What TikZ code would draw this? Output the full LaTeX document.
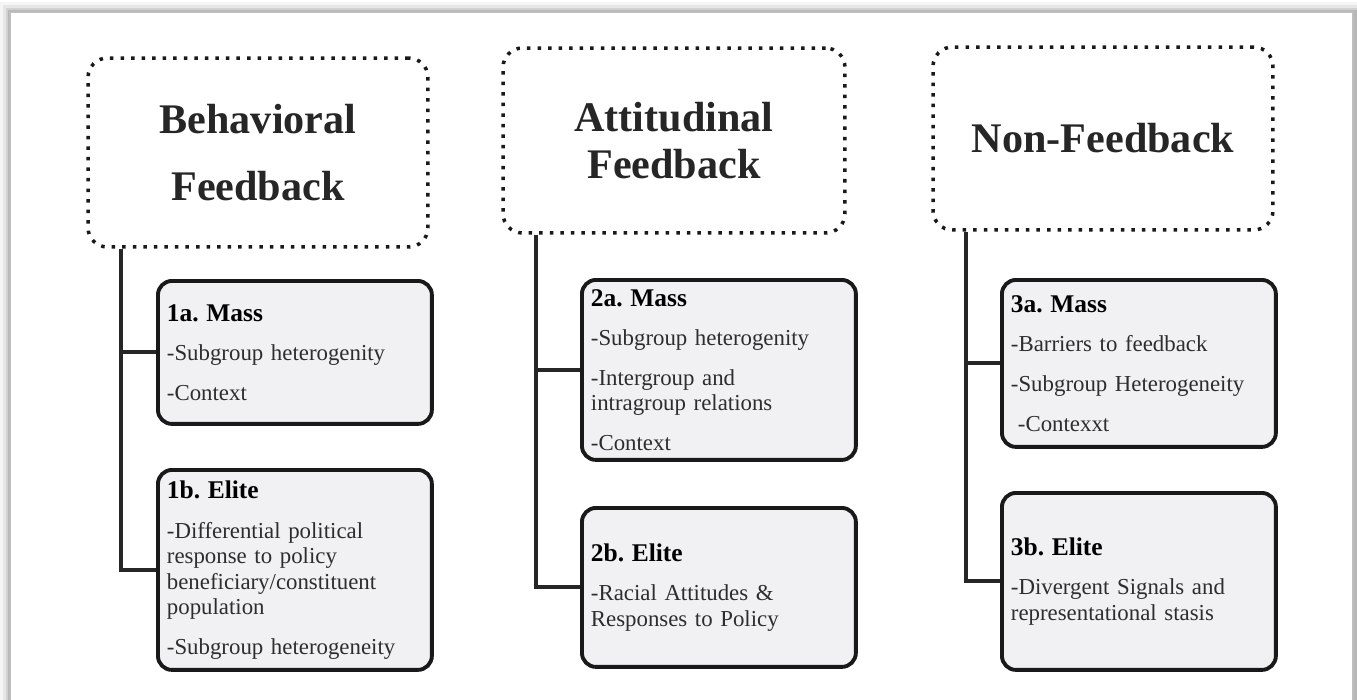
\documentclass[tikz,border=0pt]{standalone}
\usepackage{fontspec}
\setmainfont{Liberation Serif}
\usepackage{tikz}
\usetikzlibrary{positioning, calc}
\definecolor{boxfill}{RGB}{241,241,243}
\definecolor{inkgray}{RGB}{45,45,45}
\definecolor{edgegray}{RGB}{190,190,190}
\tikzset{
  headbox/.style={rectangle, draw=black!90, line width=2pt,
    dash pattern=on 2pt off 4pt, rounded corners=11pt,
    minimum width=6.8cm, align=center, text=black!85,
    font=\fontsize{24}{27}\selectfont\bfseries},
  itembox/.style={rectangle, draw=black!90, fill=boxfill,
    line width=2.2pt, rounded corners=8pt, anchor=north west,
    text width=5.12cm, inner xsep=0.18cm, align=left,
    text=inkgray, font=\fontsize{13}{14.5}\selectfont},
  trunk/.style={line width=2.2pt, color=black!85}
}
\newcommand{\hd}[1]{{\fontsize{14.5}{16}\selectfont\bfseries\color{black} #1}}
\newcommand{\gap}{8pt}
\frenchspacing

\begin{document}
\begin{tikzpicture}[x=0.02cm, y=-0.02cm]
  \useasboundingbox (0,0) rectangle (1357,700);
  % page with a soft shadow on top and left
  \fill[white] (0,0) rectangle (1357,700);
  \foreach \d/\op in {10/0.04, 7/0.06, 4/0.09, 2/0.12}
    \fill[black, opacity=\op] (10-\d,12-\d) rectangle (1357,700);
  \fill[white] (10,12) rectangle (1353,700);
  \draw[edgegray, line width=0.6pt] (10,700) -- (10,12) -- (1353,12) -- (1353,700);

  % headers
  \node[headbox, minimum height=3.78cm] (h1) at (258,152.5) {Behavioral\\[11pt]Feedback};
  \node[headbox, minimum height=3.70cm, minimum width=6.84cm] (h2) at (674,140.5) {Attitudinal\\Feedback};
  \node[headbox, minimum height=3.66cm] (h3) at (1103,138.5) {Non-Feedback};

  % column 1
  \node[itembox, minimum height=2.86cm] (b1a) at (156,279)
    {\hd{1a. Mass}\\[\gap]-Subgroup heterogenity\\[\gap]-Context};
  \node[itembox, minimum height=4.0cm] (b1b) at (156,468)
    {\hd{1b. Elite}\\[\gap]-Differential political\\response to policy\\beneficiary/constituent\\population\\[\gap]-Subgroup heterogeneity};

  % column 2
  \node[itembox, minimum height=3.6cm] (b2a) at (580,278)
    {\hd{2a. Mass}\\[\gap]-Subgroup heterogenity\\[\gap]-Intergroup and\\intragroup relations\\[\gap]-Context};
  \node[itembox, minimum height=3.18cm] (b2b) at (580,506)
    {\hd{2b. Elite}\\[\gap]-Racial Attitudes \&\\Responses to Policy};

  % column 3
  \node[itembox, minimum height=3.34cm] (b3a) at (1000,278)
    {\hd{3a. Mass}\\[\gap]-Barriers to feedback\\[\gap]-Subgroup Heterogeneity\\[\gap]\hspace*{4pt}-Contexxt};
  \node[itembox, minimum height=3.54cm] (b3b) at (1000,491)
    {\hd{3b. Elite}\\[\gap]-Divergent Signals and\\representational stasis};

  % trunks
  \coordinate (t1) at ($(h1.south west)+(35,0)$);
  \coordinate (t2) at ($(h2.south west)+(35,0)$);
  \coordinate (t3) at ($(h3.south west)+(35,0)$);
  \draw[trunk] (t1) |- (b1b.west);
  \draw[trunk] (t1 |- b1a.west) -- (b1a.west);
  \draw[trunk] (t2) |- (b2b.west);
  \draw[trunk] (t2 |- b2a.west) -- (b2a.west);
  \draw[trunk] (t3) |- (b3b.west);
  \draw[trunk] (t3 |- b3a.west) -- (b3a.west);
\end{tikzpicture}
\end{document}
